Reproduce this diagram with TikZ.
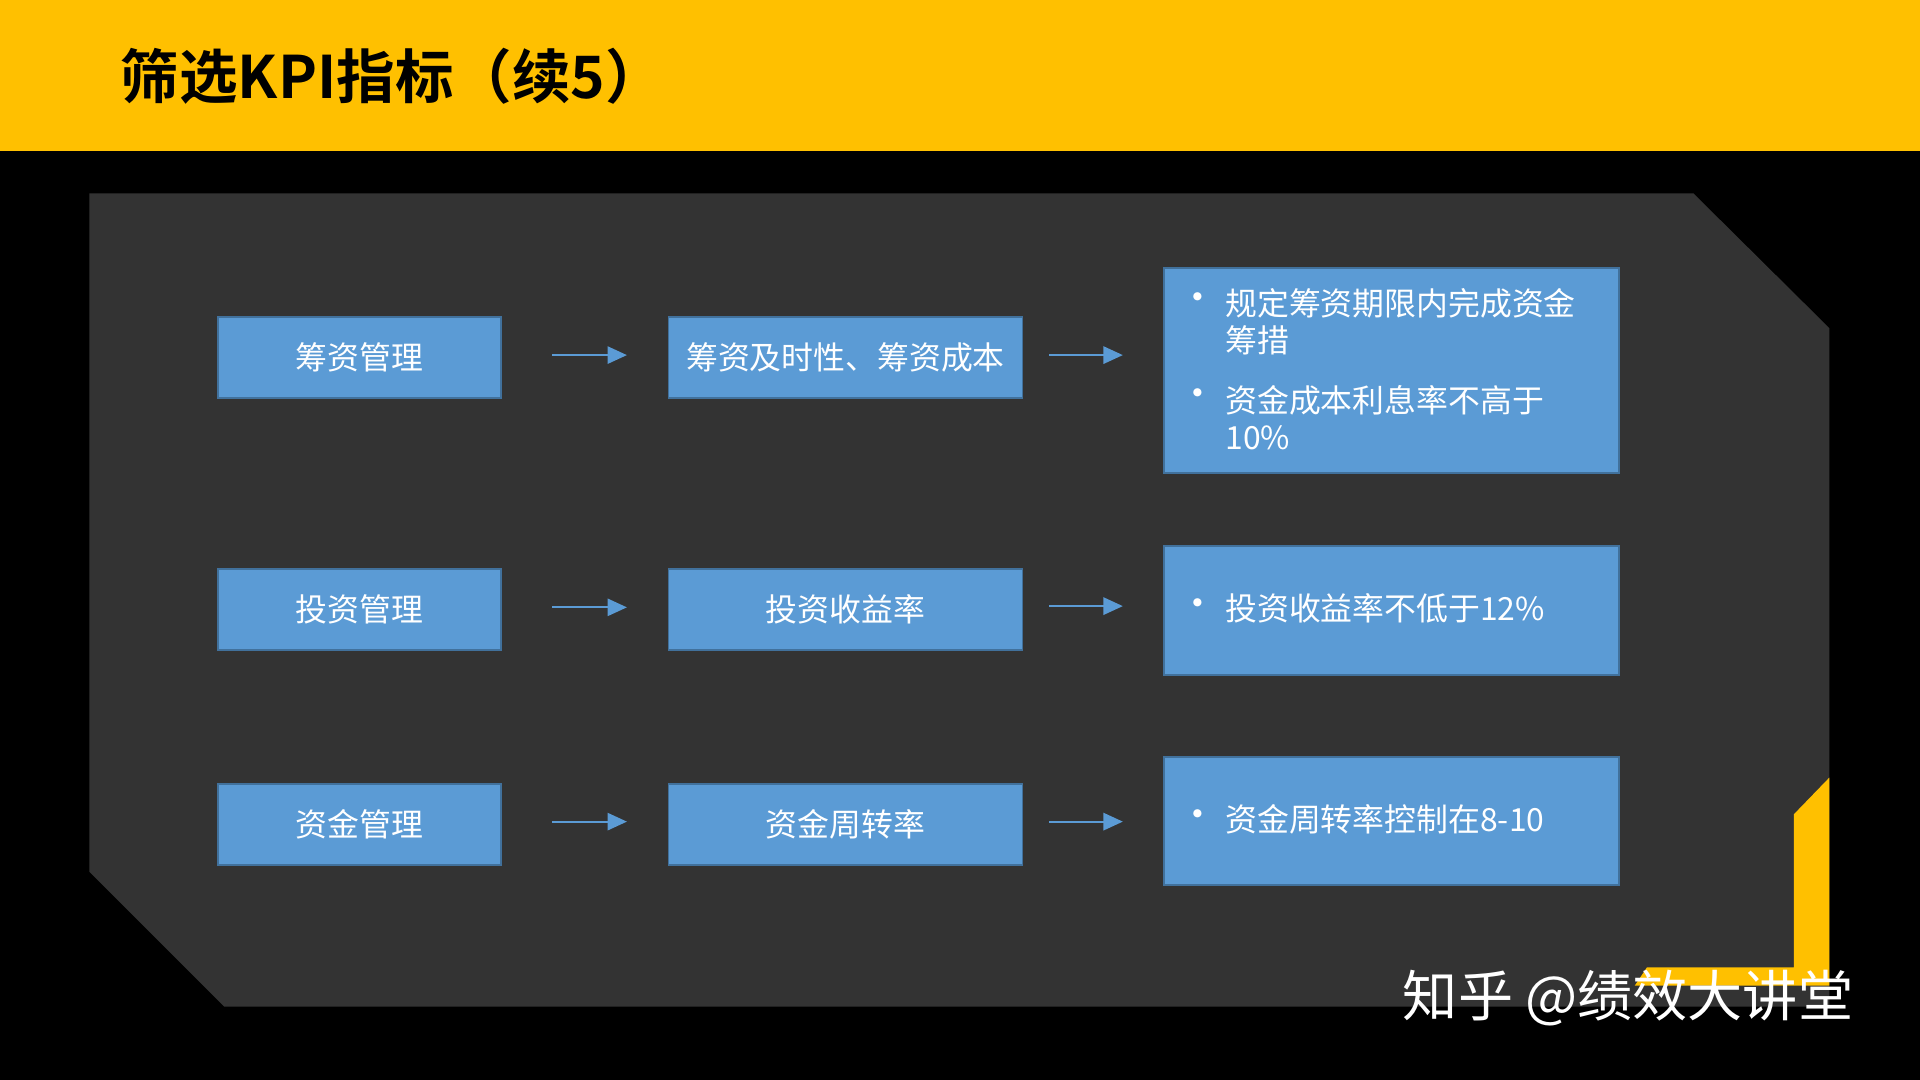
\documentclass[tikz,border=0pt]{standalone}
\usepackage{fontspec}
\setmainfont{Noto Sans CJK SC}
\newfontfamily\cjkb{Noto Sans CJK SC Bold}
\usetikzlibrary{arrows.meta}
\definecolor{blueb}{HTML}{5B9BD5}
\definecolor{bord}{HTML}{41719C}
\definecolor{yel}{HTML}{FFC000}
\definecolor{pan}{HTML}{333333}
\begin{document}
\begin{tikzpicture}[x=0.01cm,y=-0.01cm,
 box/.style={draw=bord, line width=0.4pt, fill=blueb, text=white, font=\fontsize{7.4}{8.5}\selectfont, inner sep=0pt},
 arr/.style={draw=blueb, line width=0.5pt, -{Triangle[length=4.5pt,width=4pt]}}]
\fill[black] (0,0) rectangle (1568,882);
\fill[yel] (0,0) rectangle (1568,123);
\node[anchor=west,font=\cjkb\fontsize{13.6}{15}\selectfont,inner sep=0pt] (title) at (98,62) {筛选KPI指标（续5）};
\fill[pan] (73,158) -- (1383,158) -- (1494,268) -- (1494,822) -- (183,822) -- (73,712) -- cycle;
\fill[yel] (1494,635) -- (1494,805) -- (1335,805) -- (1345,790) -- (1465,790) -- (1465,665) -- cycle;
% row 1
\node[box,minimum width=2.31cm,minimum height=0.66cm] (a1) at (293.5,292) {筹资管理};
\node[box,minimum width=2.89cm,minimum height=0.66cm] (b1) at (690.5,292) {筹资及时性、筹资成本};
\node[box,minimum width=3.71cm,minimum height=1.67cm] (c1) at (1136.5,302.5) {};
% row 2
\node[box,minimum width=2.31cm,minimum height=0.66cm] (a2) at (293.5,498) {投资管理};
\node[box,minimum width=2.89cm,minimum height=0.66cm] (b2) at (690.5,498) {投资收益率};
\node[box,minimum width=3.71cm,minimum height=1.05cm] (c2) at (1136.5,498.5) {};
% row 3
\node[box,minimum width=2.31cm,minimum height=0.66cm] (a3) at (293.5,673.5) {资金管理};
\node[box,minimum width=2.89cm,minimum height=0.66cm] (b3) at (690.5,673.5) {资金周转率};
\node[box,minimum width=3.71cm,minimum height=1.05cm] (c3) at (1136.5,670.5) {};
\begin{scope}[every node/.style={text=white,font=\fontsize{7.4}{8.6}\selectfont,anchor=west,inner sep=0pt}]
\node[font=\fontsize{9}{9}\selectfont] (t1) at (962,247) {•};
\node[align=left] (t2) at (1000,263) {规定筹资期限内完成资金\\筹措};
\node[font=\fontsize{9}{9}\selectfont] (t3) at (962,325) {•};
\node[align=left] (t4) at (1000,341) {资金成本利息率不高于\\10\%};
\node[font=\fontsize{9}{9}\selectfont] (t5) at (962,497) {•};
\node (t6) at (1000,497) {投资收益率不低于12\%};
\node[font=\fontsize{9}{9}\selectfont] (t7) at (962,669) {•};
\node (t8) at (1000,669) {资金周转率控制在8-10};
\end{scope}
\coordinate (p1) at (451,290); \coordinate (q1) at (512,290);
\coordinate (p2) at (857,290); \coordinate (q2) at (917,290);
\coordinate (p3) at (451,496); \coordinate (q3) at (512,496);
\coordinate (p4) at (857,495); \coordinate (q4) at (917,495);
\coordinate (p5) at (451,671); \coordinate (q5) at (512,671);
\coordinate (p6) at (857,671); \coordinate (q6) at (917,671);
\foreach \i in {1,...,6} \draw[arr] (p\i) -- (q\i);
\node[anchor=west,text=white,font=\fontsize{12.8}{14}\selectfont,inner sep=0pt] (wm) at (1145,815) {知乎 @绩效大讲堂};
\end{tikzpicture}
\end{document}
